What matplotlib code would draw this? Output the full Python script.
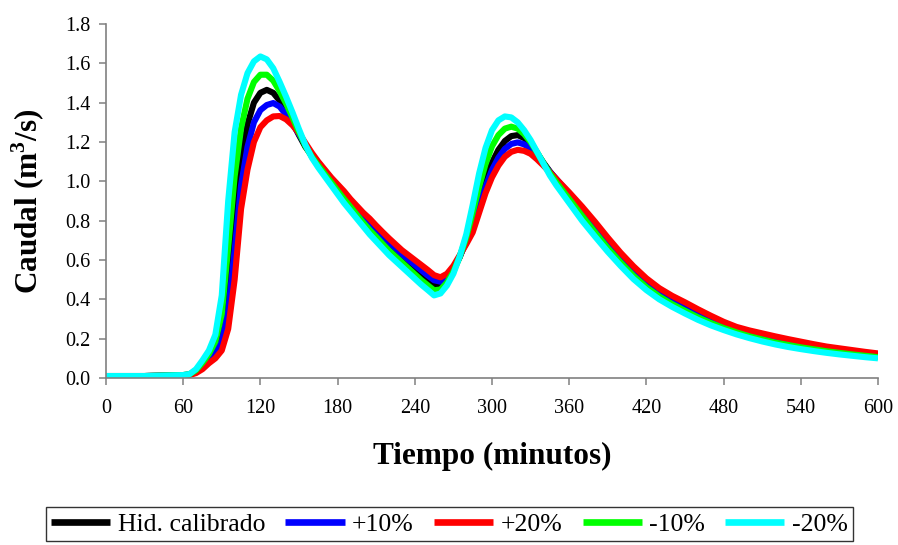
import matplotlib
matplotlib.use("Agg")
import matplotlib.pyplot as plt
from matplotlib.ticker import FormatStrFormatter

plt.rcParams["font.family"] = ["Liberation Serif", "DejaVu Serif"]
plt.rcParams["mathtext.fontset"] = "custom"
plt.rcParams["mathtext.rm"] = "Liberation Serif"
plt.rcParams["mathtext.bf"] = "Liberation Serif:bold"

# Time (minutes)
tiempo = [0, 30, 60,
          65, 70, 75, 80, 85, 90, 95,
          100, 105, 110, 115, 120, 125, 130,
          135, 140, 145, 150, 155, 160, 165,
          170, 175, 180, 185, 190, 195, 200,
          205, 210, 215, 220, 225, 230, 235,
          240, 245, 250, 255, 260, 265, 270,
          275, 280, 285, 290, 295, 300, 305,
          310, 315, 320, 325, 330, 335, 340,
          345, 350, 355, 360,
          370, 380, 390, 400, 410, 420, 430, 440, 450, 460, 470, 480,
          490, 500, 510, 520, 530, 540, 550, 560, 570, 580, 590, 600]

# Discharge (m3/s) for each scenario
hid_calibrado = [0.010, 0.010, 0.015,
                 0.018, 0.035, 0.065, 0.105, 0.150, 0.230, 0.430,
                 0.800, 1.100, 1.290, 1.400, 1.450, 1.465, 1.450,
                 1.410, 1.360, 1.300, 1.235, 1.175, 1.130, 1.090,
                 1.050, 1.010, 0.970, 0.930, 0.890, 0.850, 0.810,
                 0.775, 0.740, 0.705, 0.670, 0.640, 0.610, 0.580,
                 0.550, 0.522, 0.495, 0.472, 0.470, 0.500, 0.550,
                 0.615, 0.700, 0.800, 0.905, 1.005, 1.095, 1.160,
                 1.205, 1.230, 1.235, 1.220, 1.190, 1.145, 1.095,
                 1.050, 1.010, 0.970, 0.930,
                 0.850, 0.765, 0.680, 0.605, 0.538, 0.478, 0.430, 0.390, 0.355, 0.322, 0.292, 0.265,
                 0.242, 0.222, 0.205, 0.190, 0.177, 0.165, 0.154, 0.144, 0.135, 0.127, 0.120, 0.113]

mas_10 = [0.010, 0.010, 0.014,
          0.017, 0.030, 0.055, 0.090, 0.125, 0.185, 0.340,
          0.650, 0.980, 1.175, 1.300, 1.362, 1.388, 1.398,
          1.380, 1.338, 1.292, 1.240, 1.185, 1.138, 1.095,
          1.055, 1.015, 0.978, 0.940, 0.900, 0.862, 0.825,
          0.792, 0.758, 0.723, 0.690, 0.660, 0.630, 0.602,
          0.575, 0.548, 0.522, 0.497, 0.490, 0.515, 0.560,
          0.620, 0.690, 0.770, 0.872, 0.972, 1.058, 1.120,
          1.165, 1.190, 1.198, 1.188, 1.165, 1.128, 1.088,
          1.048, 1.012, 0.975, 0.938,
          0.862, 0.780, 0.696, 0.620, 0.552, 0.492, 0.443, 0.404, 0.370, 0.336, 0.304, 0.275,
          0.251, 0.232, 0.216, 0.201, 0.187, 0.175, 0.163, 0.152, 0.143, 0.134, 0.126, 0.119]

mas_20 = [0.010, 0.010, 0.013,
          0.015, 0.025, 0.045, 0.075, 0.100, 0.140, 0.250,
          0.500, 0.860, 1.060, 1.200, 1.275, 1.310, 1.330,
          1.332, 1.315, 1.285, 1.245, 1.195, 1.145, 1.100,
          1.060, 1.020, 0.985, 0.950, 0.910, 0.875, 0.840,
          0.810, 0.775, 0.742, 0.710, 0.680, 0.650, 0.625,
          0.600, 0.575, 0.550, 0.523, 0.512, 0.530, 0.570,
          0.625, 0.680, 0.740, 0.840, 0.940, 1.020, 1.080,
          1.125, 1.150, 1.160, 1.155, 1.140, 1.112, 1.080,
          1.046, 1.012, 0.978, 0.944,
          0.872, 0.795, 0.714, 0.637, 0.568, 0.507, 0.457, 0.418, 0.385, 0.350, 0.317, 0.286,
          0.260, 0.242, 0.227, 0.212, 0.198, 0.185, 0.172, 0.160, 0.151, 0.142, 0.133, 0.125]

menos_10 = [0.010, 0.010, 0.015,
            0.019, 0.040, 0.078, 0.122, 0.185, 0.325, 0.665,
            1.025, 1.270, 1.420, 1.505, 1.542, 1.542, 1.512,
            1.458, 1.395, 1.325, 1.250, 1.180, 1.125, 1.080,
            1.038, 0.995, 0.952, 0.910, 0.870, 0.830, 0.790,
            0.752, 0.718, 0.682, 0.648, 0.618, 0.588, 0.558,
            0.528, 0.498, 0.472, 0.446, 0.450, 0.485, 0.540,
            0.618, 0.715, 0.840, 0.972, 1.088, 1.178, 1.235,
            1.268, 1.278, 1.268, 1.240, 1.200, 1.148, 1.092,
            1.040, 0.995, 0.952, 0.910,
            0.825, 0.742, 0.661, 0.588, 0.520, 0.462, 0.415, 0.376, 0.342, 0.309, 0.280, 0.254,
            0.232, 0.212, 0.196, 0.180, 0.168, 0.156, 0.146, 0.136, 0.128, 0.120, 0.113, 0.106]

menos_20 = [0.010, 0.010, 0.015,
            0.020, 0.045, 0.090, 0.140, 0.220, 0.420, 0.900,
            1.250, 1.440, 1.550, 1.610, 1.635, 1.620, 1.575,
            1.505, 1.430, 1.350, 1.265, 1.185, 1.120, 1.070,
            1.025, 0.980, 0.935, 0.890, 0.850, 0.810, 0.770,
            0.730, 0.695, 0.660, 0.625, 0.595, 0.565, 0.535,
            0.505, 0.475, 0.448, 0.420, 0.430, 0.470, 0.530,
            0.620, 0.730, 0.880, 1.040, 1.170, 1.260, 1.310,
            1.330, 1.325, 1.300, 1.260, 1.210, 1.150, 1.090,
            1.030, 0.980, 0.935, 0.890,
            0.800, 0.720, 0.642, 0.570, 0.503, 0.447, 0.400, 0.362, 0.328, 0.296, 0.268, 0.244,
            0.222, 0.203, 0.186, 0.171, 0.158, 0.147, 0.137, 0.128, 0.120, 0.113, 0.106, 0.100]

series = [
    ("Hid. calibrado", hid_calibrado, "#000000"),
    ("+10%", mas_10, "#0000FF"),
    ("+20%", mas_20, "#FF0000"),
    ("-10%", menos_10, "#00FF00"),
    ("-20%", menos_20, "#00FFFF"),
]

fig = plt.figure(figsize=(8.98, 5.45), dpi=100)
ax = fig.add_axes([0.118, 0.3064, 0.8597, 0.6496])

for name, vals, col in series:
    ax.plot(tiempo, vals, color=col, lw=4.4, label=name, solid_capstyle="butt",
            solid_joinstyle="round")

ax.set_xlim(0, 600)
ax.set_ylim(0, 1.8)
ax.set_xticks(range(0, 601, 60))
ax.set_yticks([i * 0.2 for i in range(10)])
ax.yaxis.set_major_formatter(FormatStrFormatter("%.1f"))

for side in ("top", "right"):
    ax.spines[side].set_visible(False)
for side in ("left", "bottom"):
    ax.spines[side].set_color("#808080")
    ax.spines[side].set_linewidth(1.2)

ax.tick_params(axis="both", direction="out", length=5, width=1.1, color="#808080",
               labelsize=14.5, labelcolor="black")
ax.tick_params(axis="x", pad=10)
ax.tick_params(axis="y", pad=6)

ax.set_xlabel("Tiempo (minutos)", fontsize=22.5, fontweight="bold", labelpad=17)
ax.set_ylabel(r"Caudal (m$^{\mathbf{3}}$/s)", fontsize=22.5, fontweight="bold", labelpad=13)

leg = fig.legend(loc="center", bbox_to_anchor=(0.5006, 0.0385), ncol=5, fontsize=18.5,
                 frameon=True, fancybox=False, edgecolor="black", handlelength=2.3,
                 handletextpad=0.3, columnspacing=0.78, borderpad=0.2)
leg.get_frame().set_linewidth(1.0)
for line in leg.get_lines():
    line.set_linewidth(4.8)

fig.savefig("out.png", dpi=100)
